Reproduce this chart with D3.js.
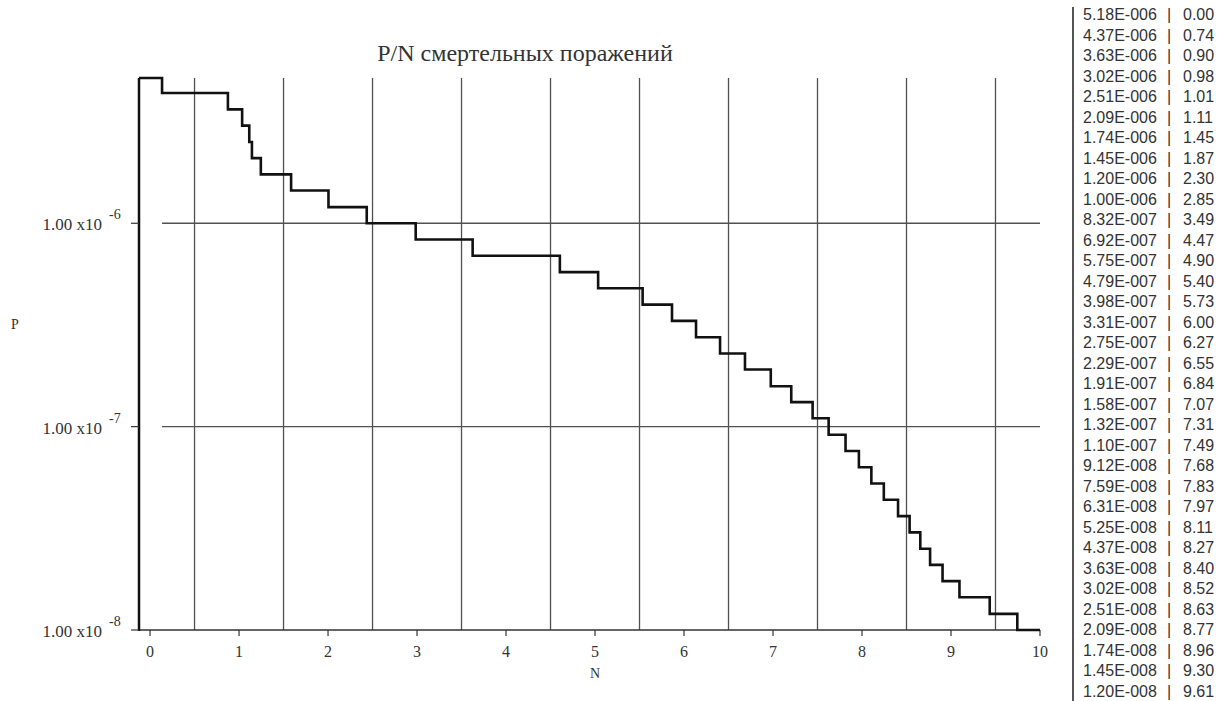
<!DOCTYPE html>
<html>
<head>
<meta charset="utf-8">
<script src="https://cdn.jsdelivr.net/npm/d3@7"></script>
<style>
body { margin:0; background:#fff; }
svg { display:block; }
</style>
</head>
<body>
<svg class="chart" width="1227" height="701"></svg>
<script>
// values from the list at the right: P | N
const pValues = [5.18e-6, 4.37e-6, 3.63e-6, 3.02e-6, 2.51e-6, 2.09e-6, 1.74e-6, 1.45e-6, 1.20e-6, 1.00e-6,
    8.32e-7, 6.92e-7, 5.75e-7, 4.79e-7, 3.98e-7, 3.31e-7, 2.75e-7, 2.29e-7, 1.91e-7, 1.58e-7, 1.32e-7, 1.10e-7,
    9.12e-8, 7.59e-8, 6.31e-8, 5.25e-8, 4.37e-8, 3.63e-8, 3.02e-8, 2.51e-8, 2.09e-8, 1.74e-8, 1.45e-8, 1.20e-8]
const nValues = [0.00, 0.74, 0.90, 0.98, 1.01, 1.11, 1.45, 1.87, 2.30, 2.85,
    3.49, 4.47, 4.90, 5.40, 5.73, 6.00, 6.27, 6.55, 6.84, 7.07, 7.31, 7.49,
    7.68, 7.83, 7.97, 8.11, 8.27, 8.40, 8.52, 8.63, 8.77, 8.96, 9.30, 9.61]
const pLabels = ["5.18E-006","4.37E-006","3.63E-006","3.02E-006","2.51E-006","2.09E-006","1.74E-006","1.45E-006","1.20E-006","1.00E-006",
    "8.32E-007","6.92E-007","5.75E-007","4.79E-007","3.98E-007","3.31E-007","2.75E-007","2.29E-007","1.91E-007","1.58E-007","1.32E-007","1.10E-007",
    "9.12E-008","7.59E-008","6.31E-008","5.25E-008","4.37E-008","3.63E-008","3.02E-008","2.51E-008","2.09E-008","1.74E-008","1.45E-008","1.20E-008"]
const xTicks = [0,1,2,3,4,5,6,7,8,9,10]
const xGrid = [0.5,1.5,2.5,3.5,4.5,5.5,6.5,7.5,8.5,9.5]
const yTicks = [1e-6, 1e-7, 1e-8]
const yTickExp = ["-6", "-7", "-8"]
const yFloor = 1e-8

const svg = d3.select(".chart")
const serif = "'Liberation Serif','Times New Roman',serif"

const pLeft = 139, pRight = 1040, pTop = 78, pBottom = 630
const x = d3.scaleLinear().domain([-0.124, 10]).range([pLeft, pRight])
const y = d3.scaleLog().domain([yFloor, 5.18e-6]).range([pBottom, pTop])
// the curve is drawn a bit to the right of the axis labels
const nShift = 0.135

// 网格
svg.append("g").selectAll("line")
    .data(xGrid).enter().append("line")
    .attr("x1", d => x(d)).attr("x2", d => x(d))
    .attr("y1", pTop).attr("y2", pBottom)
    .attr("stroke", "#505050").attr("stroke-width", 1.3)

svg.append("g").selectAll("line")
    .data(yTicks.slice(0, 2)).enter().append("line")
    .attr("x1", x(nShift)).attr("x2", pRight)
    .attr("y1", d => y(d)).attr("y2", d => y(d))
    .attr("stroke", "#505050").attr("stroke-width", 1.3)

// x axis
svg.append("line")
    .attr("x1", pLeft).attr("x2", pRight)
    .attr("y1", pBottom).attr("y2", pBottom)
    .attr("stroke", "#333").attr("stroke-width", 1.5)

svg.append("g").selectAll("line")
    .data(xTicks).enter().append("line")
    .attr("x1", d => x(d)).attr("x2", d => x(d))
    .attr("y1", pBottom).attr("y2", pBottom + 6)
    .attr("stroke", "#333").attr("stroke-width", 1.2)

svg.append("g").selectAll("text")
    .data(xTicks).enter().append("text")
    .attr("x", d => x(d)).attr("y", pBottom + 27)
    .attr("text-anchor", "middle")
    .attr("font-family", serif).attr("font-size", "16px").attr("fill", "#333")
    .text(d => d)

svg.append("text")
    .attr("x", 595).attr("y", 678)
    .attr("text-anchor", "middle")
    .attr("font-family", serif).attr("font-size", "14px").attr("fill", "#333")
    .text("N")

// y axis
svg.append("line")
    .attr("x1", pLeft).attr("x2", pLeft)
    .attr("y1", pTop).attr("y2", pBottom + 1)
    .attr("stroke", "#111").attr("stroke-width", 2.5)

svg.append("g").selectAll("line")
    .data(yTicks).enter().append("line")
    .attr("x1", pLeft - 8).attr("x2", pLeft)
    .attr("y1", d => y(d)).attr("y2", d => y(d))
    .attr("stroke", "#333").attr("stroke-width", 1.2)

const yl = svg.append("g").selectAll("g")
    .data(yTicks).enter().append("g")
yl.append("text")
    .attr("x", 102).attr("y", d => y(d) + 7)
    .attr("text-anchor", "end")
    .attr("font-family", serif).attr("font-size", "17px").attr("fill", "#333")
    .text("1.00 x10")
yl.append("text")
    .attr("x", 109).attr("y", d => y(d) - 4)
    .attr("font-family", serif).attr("font-size", "14px").attr("fill", "#333")
    .text((d, i) => yTickExp[i])

svg.append("text")
    .attr("x", 15).attr("y", 329)
    .attr("text-anchor", "middle")
    .attr("font-family", serif).attr("font-size", "14px").attr("fill", "#333")
    .text("P")

// title
svg.append("text")
    .attr("x", 525).attr("y", 61)
    .attr("text-anchor", "middle")
    .attr("font-family", serif).attr("font-size", "24px").attr("fill", "#333")
    .text("P/N смертельных поражений")

// step curve
const pts = [[x.domain()[0], pValues[0]]]
for (let i = 1; i < pValues.length; i++) {
    pts.push([nValues[i - 1] + nShift, pValues[i]])
}
pts.push([nValues[nValues.length - 1] + nShift, yFloor])
pts.push([x.domain()[1], yFloor])

const line = d3.line()
    .x(d => x(d[0]))
    .y(d => y(d[1]))
    .curve(d3.curveStepAfter)

svg.append("path")
    .attr("d", line(pts))
    .attr("fill", "none")
    .attr("stroke", "#111")
    .attr("stroke-width", 2.6)

// 右边的列表
svg.append("line")
    .attr("x1", 1073).attr("x2", 1073)
    .attr("y1", 7).attr("y2", 701)
    .attr("stroke", "#555").attr("stroke-width", 2)

const rowY = i => 14 + i * 20.5
const sans = "'Liberation Sans',Arial,sans-serif"
const rows = svg.append("g").selectAll("g")
    .data(pValues).enter().append("g")
    .attr("transform", (d, i) => `translate(0,${rowY(i) + 6})`)
rows.append("text")
    .attr("x", 1083)
    .attr("font-family", sans).attr("font-size", "16px").attr("fill", "#333")
    .text((d, i) => pLabels[i])
rows.append("text")
    .attr("x", 1169).attr("text-anchor", "middle")
    .attr("font-family", sans).attr("font-size", "16px").attr("fill", "#333")
    .text("|")
rows.append("text")
    .attr("x", 1183)
    .attr("font-family", sans).attr("font-size", "16px").attr("fill", "#333")
    .text((d, i) => nValues[i].toFixed(2))
</script>
</body>
</html>
